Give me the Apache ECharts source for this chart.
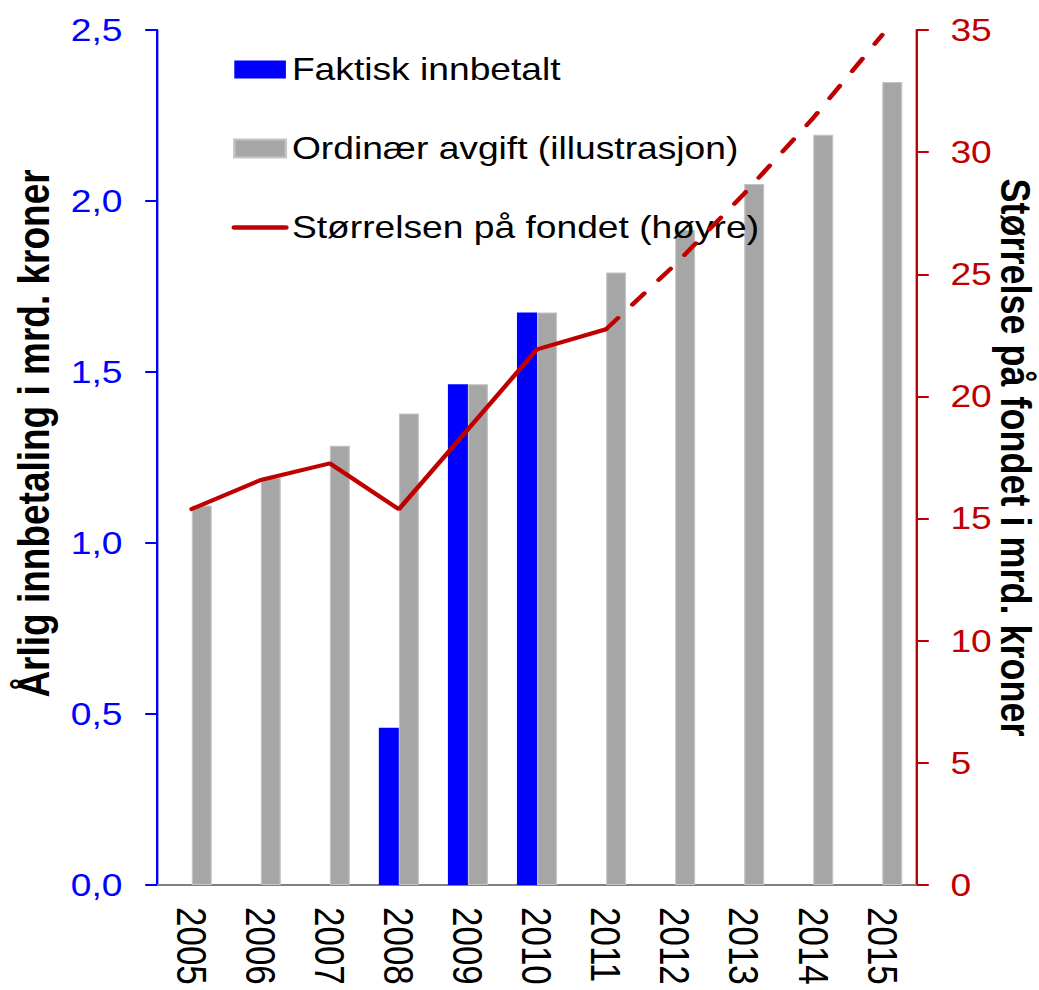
<!DOCTYPE html>
<html>
<head>
<meta charset="utf-8">
<script src="https://cdn.jsdelivr.net/npm/echarts@6/dist/echarts.min.js"></script>
<style>
  html, body { margin: 0; padding: 0; background: #fff; overflow: hidden; }
  /* the original picture is stretched sideways, so draw narrow and widen */
  #chart { width: 866px; height: 990px; transform: scaleX(1.2); transform-origin: 0 0; }
</style>
</head>
<body>
<div id="chart"></div>
<script>
// data
const years = ['2005', '2006', '2007', '2008', '2009', '2010', '2011', '2012', '2013', '2014', '2015'];
const faktisk = [null, null, null, 0.46, 1.464, 1.674, null, null, null, null, null];
const ordinaer = [1.11, 1.19, 1.284, 1.379, 1.464, 1.674, 1.791, 1.915, 2.05, 2.194, 2.348];
const fondet = [15.39, 16.58, 17.26, 15.38, 18.65, 21.93, 22.75, null, null, null, null];
const fondetProg = [null, null, null, null, null, null, 22.75, 25.4, 28.3, 31.4, 34.8];

const FONT = '"Liberation Sans", Arial, sans-serif';
const BLUE = '#0000FF';
const GREY = '#A6A6A6';
const RED = '#C00000';

let myChart = echarts.init(document.getElementById('chart'), null, { renderer: 'svg' });

let option = {
  animation: false,
  textStyle: { fontFamily: FONT },
  grid: { left: 131, right: 102, top: 30, bottom: 105, outerBoundsMode: 'none' },
  legend: {
    orient: 'vertical',
    left: 193,
    top: 54,
    padding: 0,
    itemWidth: 43,
    itemHeight: 18,
    itemGap: 48,
    textStyle: { fontSize: 31, color: '#000', fontFamily: FONT },
    data: [
      { name: 'Faktisk innbetalt', icon: 'rect' },
      { name: 'Ordinær avgift (illustrasjon)', icon: 'rect' },
      { name: 'Størrelsen på fondet (høyre)', itemStyle: { opacity: 0 }, lineStyle: { width: 4.5, cap: 'round' } }
    ]
  },
  xAxis: {
    type: 'category',
    data: years,
    axisLine: { lineStyle: { color: '#808080', width: 2 } },
    axisTick: { length: 10, lineStyle: { color: '#808080', width: 2 } },
    axisLabel: { rotate: -90, margin: 22, fontSize: 35, color: '#000', fontFamily: FONT }
  },
  yAxis: [{
    type: 'value',
    min: 0,
    max: 2.5,
    interval: 0.5,
    name: 'Årlig innbetaling i mrd. kroner',
    nameLocation: 'middle',
    nameGap: 84,
    nameTextStyle: { fontSize: 37, fontWeight: 'bold', color: '#000', fontFamily: FONT, padding: [0, 0, 0, 48] },
    axisLine: { show: true, lineStyle: { color: BLUE, width: 2 } },
    axisTick: { show: true, length: 10, lineStyle: { color: BLUE, width: 2 } },
    axisLabel: {
      margin: 29,
      fontSize: 31,
      color: BLUE,
      fontFamily: FONT,
      formatter: v => v.toFixed(1).replace('.', ',')
    },
    splitLine: { show: false }
  }, {
    type: 'value',
    min: 0,
    max: 35,
    interval: 5,
    name: 'Størrelse på fondet i mrd. kroner',
    nameLocation: 'middle',
    nameGap: 65,
    nameMoveOverlap: false,
    nameRotate: -90,
    nameTextStyle: { fontSize: 36, fontWeight: 'bold', color: '#000', fontFamily: FONT },
    axisLine: { show: true, lineStyle: { color: RED, width: 2 } },
    axisTick: { show: true, length: 10, lineStyle: { color: RED, width: 2 } },
    axisLabel: { margin: 28, fontSize: 31, color: RED, fontFamily: FONT },
    splitLine: { show: false }
  }],
  series: [{
    name: 'Faktisk innbetalt',
    type: 'bar',
    data: faktisk,
    barWidth: 16.7,
    barGap: '0%',
    itemStyle: { color: BLUE }
  }, {
    name: 'Ordinær avgift (illustrasjon)',
    type: 'bar',
    data: ordinaer,
    barWidth: 16.7,
    barGap: '0%',
    itemStyle: { color: GREY, borderColor: '#C4C4C4', borderWidth: 1 }
  }, {
    name: 'Størrelsen på fondet (høyre)',
    type: 'line',
    yAxisIndex: 1,
    data: fondet,
    symbol: 'none',
    z: 5,
    itemStyle: { color: RED },
    lineStyle: { color: RED, width: 4, cap: 'round' }
  }, {
    name: 'prognose',
    type: 'line',
    yAxisIndex: 1,
    data: fondetProg,
    symbol: 'none',
    z: 5,
    itemStyle: { color: RED },
    lineStyle: { color: RED, width: 4, type: [15, 18], cap: 'round' }
  }]
};

myChart.setOption(option);
</script>
</body>
</html>
